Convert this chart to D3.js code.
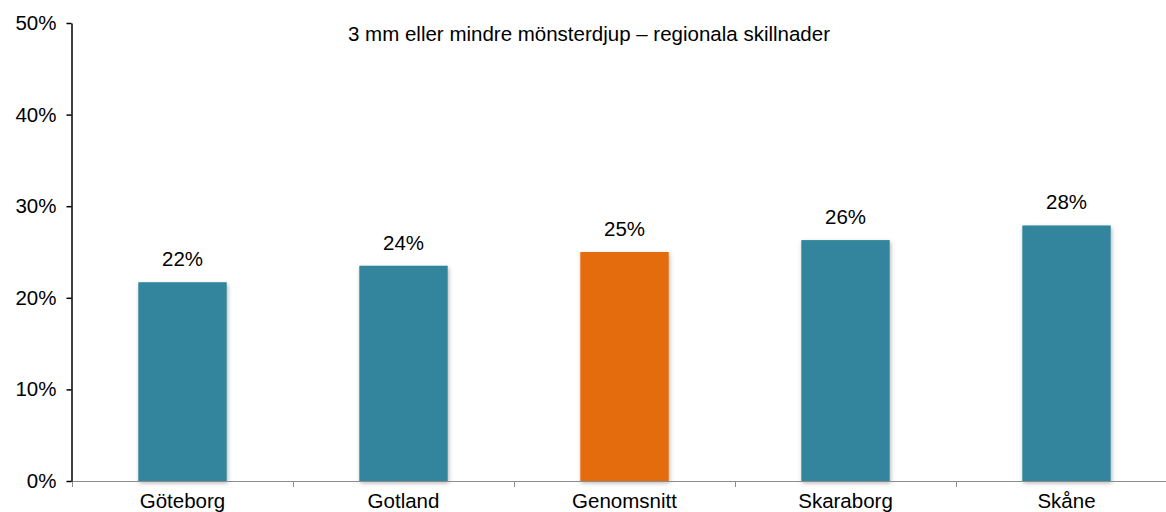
<!DOCTYPE html>
<html>
<head>
<meta charset="utf-8">
<script src="https://cdn.jsdelivr.net/npm/d3@7"></script>
<style>
  body { margin: 0; background: #fff; }
  svg text { font-family: Helvetica, Arial, "Liberation Sans", sans-serif; fill: #000; }
</style>
</head>
<body>
<div id="chart"></div>
<script>
var categories = ['Göteborg', 'Gotland', 'Genomsnitt', 'Skaraborg', 'Skåne'];
var values = [0.217, 0.235, 0.250, 0.263, 0.279];
var labels = ['22%', '24%', '25%', '26%', '28%'];
var yTicks = [0, 0.1, 0.2, 0.3, 0.4, 0.5];
var title = '3 mm eller mindre mönsterdjup – regionala skillnader';
var highlight = 'Genomsnitt';

var width = 1166, height = 512;
var plotLeft = 71, plotTop = 23, plotBottom = 481;
var fontSize = '20.5px';

var svg = d3.select('#chart').append('svg')
  .attr('width', width).attr('height', height);

var defs = svg.append('defs');
var f = defs.append('filter').attr('id', 'shadow')
  .attr('x', '-10%').attr('y', '-10%').attr('width', '130%').attr('height', '130%');
f.append('feDropShadow').attr('dx', 1).attr('dy', 2)
  .attr('stdDeviation', 2).attr('flood-color', '#000').attr('flood-opacity', 0.3);

var x = d3.scaleBand().domain(categories).range([72, 1177]).padding(0);
var y = d3.scaleLinear().domain([0, 0.5]).range([plotBottom, plotTop]);
var barW = x.bandwidth() * 0.4;

// bars
svg.selectAll('rect.bar')
  .data(categories)
  .enter()
  .append('rect')
  .attr('class', 'bar')
  .attr('x', function(d) { return x(d) + (x.bandwidth() - barW) / 2; })
  .attr('y', function(d, i) { return y(values[i]); })
  .attr('width', barW)
  .attr('height', function(d, i) { return plotBottom - y(values[i]); })
  .attr('fill', function(d) { return d === highlight ? '#E46C0A' : '#31859C'; })
  .attr('filter', 'url(#shadow)');

// value labels
svg.selectAll('text.val')
  .data(categories)
  .enter()
  .append('text')
  .attr('class', 'val')
  .attr('x', function(d) { return x(d) + x.bandwidth() / 2; })
  .attr('y', function(d, i) { return y(values[i]) - 16; })
  .attr('text-anchor', 'middle')
  .style('font-size', fontSize)
  .text(function(d, i) { return labels[i]; });

// x axis line + ticks at band edges
svg.append('line')
  .attr('x1', plotLeft).attr('x2', width)
  .attr('y1', plotBottom + 0.5).attr('y2', plotBottom + 0.5)
  .attr('stroke', '#8c8c8c').attr('stroke-width', 1);
var edges = categories.map(function(d) { return x(d); });
svg.selectAll('line.xt')
  .data(edges)
  .enter()
  .append('line')
  .attr('class', 'xt')
  .attr('x1', function(d) { return Math.round(d) + 0.5; })
  .attr('x2', function(d) { return Math.round(d) + 0.5; })
  .attr('y1', plotBottom).attr('y2', plotBottom + 6)
  .attr('stroke', '#8c8c8c');

svg.selectAll('text.cat')
  .data(categories)
  .enter()
  .append('text')
  .attr('class', 'cat')
  .attr('x', function(d) { return x(d) + x.bandwidth() / 2; })
  .attr('y', 508)
  .attr('text-anchor', 'middle')
  .style('font-size', fontSize)
  .text(function(d) { return d; });

// y axis
var yAxis = svg.append('g')
  .attr('transform', 'translate(' + (plotLeft + 0.5) + ',0)')
  .call(d3.axisLeft(y).tickValues(yTicks).tickFormat(d3.format('.0%')).tickSize(5).tickSizeOuter(0).tickPadding(10));
yAxis.select('.domain').attr('stroke', '#000').attr('stroke-width', 1.5);
yAxis.selectAll('.tick line').attr('stroke', '#000').attr('stroke-width', 1.5);
yAxis.selectAll('.tick text')
  .style('font-size', fontSize)
  .attr('fill', '#000')
  .style('font-family', 'Helvetica, Arial, "Liberation Sans", sans-serif');

// title
svg.append('text')
  .attr('x', 589).attr('y', 41)
  .attr('text-anchor', 'middle')
  .style('font-size', fontSize)
  .text(title);
</script>
</body>
</html>
